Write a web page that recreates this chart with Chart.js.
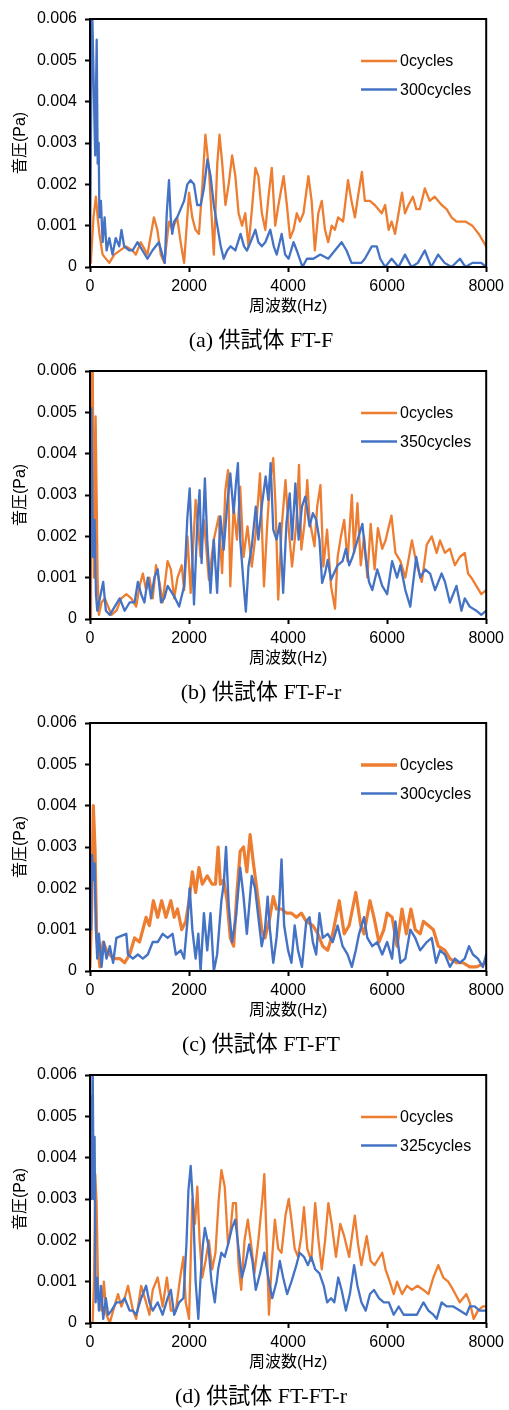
<!DOCTYPE html>
<html>
<head>
<meta charset="utf-8">
<script src="https://cdn.jsdelivr.net/npm/chart.js@4.4.1/dist/chart.umd.min.js"></script>
<style>
body { margin: 0; background: #fff; width: 509px; height: 1410px; position: relative; overflow: hidden; }
.panel { position: absolute; left: 0; width: 509px; height: 352px; }
.panel canvas { position: absolute; left: 0; top: 0; }
.cap { position: absolute; left: 0; width: 522px; top: 326px; text-align: center; color: #000;
       font: 22px "Liberation Serif", "Noto Sans CJK JP", serif; line-height: 28px; }
</style>
</head>
<body>
<div class="panel" style="top:0px"><canvas id="c0" width="509" height="352"></canvas><div class="cap">(a) 供試体 FT-F</div></div>
<div class="panel" style="top:352px"><canvas id="c1" width="509" height="352"></canvas><div class="cap">(b) 供試体 FT-F-r</div></div>
<div class="panel" style="top:704px"><canvas id="c2" width="509" height="352"></canvas><div class="cap">(c) 供試体 FT-FT</div></div>
<div class="panel" style="top:1056px"><canvas id="c3" width="509" height="352"></canvas><div class="cap">(d) 供試体 FT-FT-r</div></div>
<script>
// axes
const xTicks = [0, 2000, 4000, 6000, 8000];
const xTickLabels = ['0', '2000', '4000', '6000', '8000'];
const yTicks = [0, 0.001, 0.002, 0.003, 0.004, 0.005, 0.006];
const yTickLabels = ['0', '0.001', '0.002', '0.003', '0.004', '0.005', '0.006'];
const seriesNames = [['0cycles', '300cycles'], ['0cycles', '350cycles'], ['0cycles', '300cycles'], ['0cycles', '325cycles']];

// (a) FT-F  周波数(Hz) / 音圧(Pa)
const aFreq0 = [0,20,70,120,155,190,255,390,490,720,860,925,1025,1160,1290,1360,1430,1500,1595,1660,
  1760,1830,1900,2000,2065,2130,2200,2265,2330,2400,2500,2570,2615,2670,2735,2800,2870,2935,3000,3070,
  3135,3200,3270,3340,3400,3470,3540,3605,3670,3740,3805,3910,3975,4040,4110,4175,4240,4310,4410,4475,
  4540,4610,4680,4745,4810,4880,4945,5010,5110,5210,5280,5350,5410,5490,5550,5650,5750,5890,5960,6030,
  6090,6160,6230,6300,6360,6430,6520,6590,6660,6760,6860,6960,7100,7200,7300,7400,7580,7720,7850,8000];
const aPa0 = [0.0001,0.0002,0.0012,0.0017,0.0012,0.0008,0.0003,0.0001,0.0003,0.0005,
  0.0004,0.0003,0.0006,0.0003,0.0012,0.0009,0.0003,0.0001,0.0011,0.0009,
  0.0012,0.0006,0.0001,0.0018,0.0012,0.0009,0.0008,0.0019,0.0032,0.0024,
  0.0003,0.0025,0.0032,0.0025,0.0015,0.0020,0.0027,0.0022,0.0013,0.0010,
  0.0013,0.0005,0.0014,0.0024,0.0022,0.0013,0.0009,0.0017,0.0024,0.0010,
  0.0015,0.0022,0.0015,0.0007,0.0009,0.0013,0.0011,0.0013,0.0022,0.0016,
  0.0004,0.0013,0.0016,0.0009,0.0006,0.0010,0.0009,0.0012,0.0011,0.0021,
  0.0016,0.0012,0.0017,0.0023,0.0016,0.0016,0.0015,0.0013,0.0015,0.0009,
  0.0011,0.0008,0.0013,0.0018,0.0013,0.0015,0.0017,0.0014,0.0014,0.0019,
  0.0016,0.0017,0.0015,0.0014,0.0012,0.0011,0.0011,0.0010,0.0008,0.0005];
const aFreq1 = [0,40,90,105,135,155,175,190,220,255,295,335,390,455,520,590,635,690,790,860,
  960,1060,1160,1260,1390,1460,1510,1550,1595,1630,1660,1700,1760,1830,1900,1965,2030,2100,2165,2235,
  2300,2370,2435,2500,2570,2640,2700,2770,2840,2935,3040,3110,3170,3240,3340,3400,3470,3540,3640,3710,
  3770,3870,3940,4010,4110,4175,4290,4380,4510,4650,4810,4945,5080,5180,5280,5380,5480,5550,5690,5790,
  5860,5960,6090,6230,6360,6490,6620,6760,6890,7030,7160,7300,7470,7580,7720,7900,8000];
const aPa1 = [0.0001,0.0065,0.0035,0.0027,0.0055,0.0025,0.0030,0.0012,0.0016,0.0006,
  0.0012,0.0004,0.0007,0.0003,0.0007,0.0005,0.0009,0.0005,0.0004,0.0004,
  0.0006,0.0004,0.0002,0.0004,0.0006,0.0003,0.0001,0.0013,0.0021,0.0012,
  0.0008,0.0011,0.0012,0.0014,0.0016,0.0020,0.0021,0.0020,0.0015,0.0015,
  0.0019,0.0026,0.0022,0.0015,0.0010,0.0005,0.0002,0.0004,0.0005,0.0004,
  0.0008,0.0005,0.0004,0.0006,0.0009,0.0006,0.0005,0.0006,0.0009,0.0005,
  0.0003,0.0008,0.0003,0.0002,0.0006,0.0004,0,0.0002,0.0002,0.0003,
  0.0002,0.0004,0.0006,0.0004,0.0001,0.0001,0.0001,0.0002,0.0005,0.0005,
  0.0002,0,0.0002,0,0.0003,0,0.0001,0.0004,0,0.0003,
  0.0001,0,0.0002,0,0.0001,0.0001,0];

// (b) FT-F-r
const bFreq0 = [0,20,53,80,113,133,153,180,233,300,367,433,533,633,733,833,933,1000,1067,1133,
  1200,1267,1333,1400,1467,1567,1633,1700,1767,1853,1900,1967,2033,2133,2233,2300,2400,2500,2600,2667,
  2733,2787,2833,2900,2967,3033,3100,3180,3267,3347,3433,3513,3580,3633,3700,3747,3800,3867,3947,4013,
  4080,4167,4220,4267,4333,4387,4433,4533,4587,4653,4713,4787,4867,4947,5000,5067,5133,5200,5287,5333,
  5400,5467,5533,5600,5667,5747,5813,5900,5967,6087,6167,6267,6367,6500,6600,6700,6800,6900,7000,7067,
  7167,7267,7367,7467,7567,7633,7700,7800,7900,8000];
const bPa0 = [0,0.0065,0.0065,0.0010,0.0049,0.0030,0.0010,0.0001,0.0004,0.0005,
  0.0003,0.0001,0.0002,0.0005,0.0006,0.0005,0.0003,0.0008,0.0011,0.0007,
  0.0010,0.0005,0.0013,0.0009,0.0004,0.0014,0.0012,0.0005,0.0010,0.0013,
  0.0007,0.0020,0.00063,0.00288,0.0015,0.0024,0.00095,0.00192,0.00248,0.00111,
  0.00312,0.0036,0.00079,0.00272,0.00192,0.0032,0.0015,0.00224,0.00127,0.00208,
  0.00352,0.00079,0.00232,0.00328,0.00389,0.00272,0.00047,0.00216,0.00336,0.00216,
  0.00127,0.00232,0.00373,0.00168,0.00232,0.00336,0.0024,0.00176,0.00272,0.00324,
  0.00127,0.00216,0.00079,0.00025,0.0015,0.0020,0.0024,0.0014,0.0030,0.0016,
  0.0028,0.0013,0.0020,0.0010,0.0023,0.0012,0.0022,0.0017,0.0019,0.0025,
  0.0016,0.0014,0.0010,0.0019,0.0013,0.0009,0.0018,0.0020,0.0016,0.0019,
  0.0016,0.0017,0.0013,0.0015,0.0016,0.0011,0.0010,0.0008,0.0006,0.0007];
const bFreq1 = [0,27,60,93,120,147,200,267,320,400,500,600,700,800,900,967,1033,1100,1167,1233,
  1300,1367,1433,1500,1567,1700,1800,1900,1967,2013,2067,2100,2167,2213,2253,2320,2367,2433,2500,2567,
  2633,2700,2767,2833,2900,2947,2987,3033,3100,3147,3200,3267,3347,3400,3467,3547,3600,3647,3700,3767,
  3833,3900,3967,4033,4080,4147,4213,4280,4347,4433,4500,4567,4633,4687,4747,4800,4867,5000,5100,5167,
  5233,5300,5400,5500,5567,5633,5700,5800,5900,6000,6100,6200,6267,6367,6467,6587,6667,6767,6867,6967,
  7100,7167,7267,7400,7500,7567,7667,7800,7900,8000];
const bPa1 = [0,0.0051,0.0015,0.0024,0.0006,0.0002,0.0005,0.0009,0.0002,0.0001,
  0.0003,0.0005,0.0002,0.0004,0.0004,0.0009,0.0006,0.0004,0.0010,0.0005,
  0.0010,0.0012,0.0004,0.0005,0.0008,0.00055,0.0003,0.00079,0.00248,0.00316,
  0.00143,0.00035,0.00232,0.00312,0.00135,0.0034,0.00192,0.00063,0.00192,0.00063,
  0.00248,0.00168,0.00272,0.00352,0.00256,0.00328,0.00377,0.00192,0.00087,0.00018,
  0.00127,0.00176,0.00272,0.00192,0.00272,0.00345,0.00288,0.00377,0.00216,0.00192,
  0.00232,0.00063,0.00232,0.00304,0.00192,0.00328,0.00192,0.00272,0.00296,0.00224,
  0.00256,0.0024,0.00192,0.00087,0.00111,0.00143,0.00095,0.0013,0.0014,0.0017,
  0.0013,0.0015,0.0019,0.0023,0.0015,0.0009,0.0007,0.0012,0.0008,0.0006,
  0.0014,0.0010,0.0013,0.0007,0.0003,0.0015,0.0010,0.0012,0.0011,0.0007,
  0.0011,0.0009,0.0004,0.0008,0.0002,0.0005,0.0003,0.0002,0.0001,0.0002];

// (c) FT-FT
const cFreq0 = [0,33,67,100,133,200,267,333,467,600,700,800,900,1000,1133,1200,1280,1367,1447,1533,
  1633,1700,1767,1853,1933,2000,2067,2133,2200,2267,2367,2467,2533,2587,2633,2700,2767,2833,2900,2967,
  3033,3100,3167,3233,3300,3367,3467,3533,3633,3700,3767,3867,3967,4067,4167,4267,4367,4500,4600,4700,
  4800,4900,5033,5133,5233,5367,5467,5533,5653,5733,5833,5933,6000,6100,6200,6300,6387,6480,6567,6667,
  6733,6833,6933,7033,7167,7267,7400,7533,7667,7800,8000];
const cPa0 = [0.0001,0.0015,0.0040,0.0030,0.0009,0.0001,0.0007,0.0005,0.0003,0.0003,
  0.0002,0.0004,0.0008,0.0007,0.0013,0.0011,0.0017,0.0013,0.0017,0.0013,
  0.0017,0.0013,0.0015,0.0010,0.0012,0.0017,0.0024,0.0019,0.0025,0.0021,
  0.0023,0.0021,0.0021,0.0030,0.0021,0.0022,0.0017,0.0008,0.0006,0.0019,
  0.0029,0.0030,0.0024,0.0033,0.0026,0.0020,0.0010,0.0008,0.0013,0.0018,
  0.0015,0.0015,0.0014,0.0014,0.0013,0.0014,0.0012,0.0011,0.0009,0.0006,
  0.0005,0.0009,0.0017,0.0009,0.0011,0.0019,0.0011,0.0009,0.0017,0.0013,
  0.0007,0.0010,0.0014,0.0013,0.0006,0.0015,0.0009,0.0015,0.0010,0.0009,
  0.0012,0.0011,0.0010,0.0006,0.0005,0.0003,0.0002,0.0002,0.0001,0.0001,0.0002];
const cFreq1 = [0,20,40,67,93,120,147,180,233,280,333,400,467,533,733,767,867,967,1067,1167,
  1267,1367,1467,1567,1667,1733,1833,1900,1967,2013,2067,2133,2187,2233,2300,2367,2433,2500,2567,2653,
  2700,2747,2800,2867,2947,3033,3100,3167,3267,3333,3400,3467,3533,3587,3633,3700,3767,3820,3867,3920,
  4000,4067,4133,4200,4280,4367,4433,4500,4567,4633,4700,4800,4900,5000,5100,5200,5287,5367,5433,5533,
  5600,5700,5800,5900,6000,6100,6167,6267,6367,6467,6567,6667,6800,6900,6987,7067,7167,7267,7367,7467,
  7567,7653,7733,7833,7933,8000];
const cPa1 = [0.0017,0.0010,0.0028,0.0022,0.0026,0.0010,0.0003,0.0009,0.0001,0.0007,
  0.0003,0.0006,0.0002,0.0008,0.0009,0.0004,0.0003,0.0004,0.0003,0.0004,
  0.0007,0.0007,0.0009,0.0008,0.0009,0.0004,0.0005,0.0003,0.0012,0.0020,
  0.0010,0.0003,0.0009,0,0.0014,0.0005,0.0014,0,0.0004,0.0017,
  0.0021,0.0030,0.0016,0.0007,0.0013,0.0025,0.0018,0.0009,0.0023,0.0020,
  0.0013,0.0006,0.0010,0.0018,0.0010,0.0002,0.0008,0.0016,0.0027,0.0011,
  0.0005,0.0002,0.0011,0.0005,0.0001,0.0012,0.0013,0.0007,0.0004,0.0014,
  0.0008,0.0009,0.0007,0.0011,0.0006,0.0004,0.0001,0.0005,0.0009,0.0013,
  0.0008,0.0006,0.0007,0.0004,0.0007,0.0003,0.0012,0.0002,0.0003,0.0010,
  0.0008,0.0005,0.0007,0.0008,0.0002,0.0005,0.0004,0.0001,0.0003,0.0002,
  0.0003,0.0006,0.0004,0.0003,0.0001,0.0004];

// (d) FT-FT-r
const dFreq0 = [0,53,80,107,133,167,233,280,333,400,467,567,633,700,767,867,933,1033,1133,1200,
  1267,1367,1467,1553,1633,1733,1833,1887,1933,2000,2067,2120,2167,2213,2267,2333,2400,2467,2533,2600,
  2653,2720,2787,2833,2887,2947,3000,3053,3120,3187,3253,3320,3400,3480,3520,3567,3613,3667,3733,3800,
  3867,3947,4013,4067,4133,4200,4267,4320,4387,4467,4547,4613,4680,4747,4813,4880,4967,5053,5133,5233,
  5347,5413,5480,5587,5667,5747,5900,5967,6053,6133,6200,6300,6400,6500,6613,6733,6833,6933,7033,7133,
  7233,7333,7467,7600,7667,7747,7833,7933,8000];
const dPa0 = [0,0,0.0010,0.0036,0.0029,0.0006,0.0003,0.0010,0.0002,0,
  0.0003,0.0007,0.0004,0.0006,0.0009,0.0003,0.0001,0.0009,0.0005,0.0002,
  0.0008,0.0011,0.0004,0.0011,0.0003,0.0003,0.0012,0.0016,0.0005,0.0001,
  0.0030,0.0024,0.0033,0.0020,0.0011,0.0015,0.0020,0.0013,0.0017,0.0030,
  0.0037,0.0033,0.0019,0.0022,0.0029,0.0029,0.0014,0.0008,0.0020,0.0025,
  0.0019,0.0012,0.0020,0.0030,0.0036,0.0020,0.0002,0.0014,0.0025,0.0018,
  0.0017,0.0026,0.0030,0.0025,0.0018,0.0016,0.0021,0.0028,0.0018,0.0015,
  0.0029,0.0020,0.0013,0.0020,0.0029,0.0024,0.0016,0.0024,0.0021,0.0016,
  0.0026,0.0019,0.0014,0.0021,0.0015,0.0014,0.0017,0.0013,0.0010,0.0007,
  0.0010,0.0007,0.0009,0.0008,0.0009,0.0008,0.0007,0.0011,0.0014,0.0011,
  0.0010,0.0008,0.0005,0.0007,0.0005,0.0001,0.0003,0.0004,0.0004];
const dFreq1 = [0,13,33,53,73,93,113,147,180,220,267,320,367,433,533,633,700,800,867,933,
  1033,1133,1200,1267,1367,1467,1567,1633,1700,1800,1887,1947,1987,2033,2080,2133,2187,2233,2280,2320,
  2387,2453,2520,2587,2653,2720,2787,2867,2933,3000,3067,3133,3213,3280,3347,3433,3520,3600,3680,3767,
  3833,3900,3980,4067,4167,4233,4320,4400,4467,4547,4633,4720,4787,4867,4933,5013,5080,5167,5247,5333,
  5400,5480,5567,5653,5733,5833,5933,6033,6133,6233,6333,6467,6600,6733,6833,6933,7000,7100,7200,7333,
  7467,7600,7667,7767,7867,8000];
const dPa1 = [0.0054,0.0055,0.0030,0.0065,0.0030,0.0045,0.0005,0.0011,0.0003,0.0009,
  0.0001,0.0006,0.0002,0.0003,0.0005,0.0005,0.0006,0.0003,0.0003,0.0002,
  0.0006,0.0009,0.0005,0.0003,0.0005,0.0002,0.0006,0.0008,0.0002,0.0005,
  0.0006,0.0019,0.0032,0.0038,0.0029,0.0010,0.0001,0.0011,0.0019,0.0023,
  0.0019,0.0010,0.0005,0.0013,0.0017,0.0016,0.0019,0.0023,0.0025,0.0018,
  0.0011,0.0014,0.0019,0.0015,0.0008,0.0012,0.0017,0.0011,0.0006,0.0010,
  0.0015,0.0011,0.0007,0.0010,0.0014,0.0017,0.0016,0.0014,0.0016,0.0013,
  0.0012,0.0009,0.0005,0.0006,0.0005,0.0011,0.0008,0.0003,0.0007,0.0014,
  0.0009,0.0005,0.0003,0.0007,0.0008,0.0006,0.0005,0.0005,0.0002,0.0004,
  0.0002,0.0002,0.0002,0.0005,0.0003,0.0002,0.0001,0.0005,0.0004,0.0004,
  0.0003,0.0002,0.0004,0.0004,0.0003,0.0003];

const ORANGE = '#ED7D31';
const BLUE = '#4472C4';
const FONT = "'Liberation Sans', Arial, 'Noto Sans CJK JP', sans-serif";

const pts = (f, v) => f.map((x, i) => ({ x: x, y: v[i] }));

// plot frame + legend inside the plot area
const framePlugin = {
  id: 'frame',
  afterDraw(chart) {
    const { ctx, chartArea: a } = chart;
    ctx.save();
    ctx.strokeStyle = '#000';
    ctx.lineWidth = 2;
    ctx.strokeRect(a.left, a.top, a.right - a.left, a.bottom - a.top);

    ctx.font = '16px ' + FONT;
    ctx.textBaseline = 'middle';
    ctx.fillStyle = '#000';
    chart.data.datasets.forEach((ds, i) => {
      const y = a.top + 42 + i * 28.5;
      ctx.strokeStyle = ds.borderColor;
      ctx.lineWidth = ds.borderWidth + 0.3;
      ctx.beginPath();
      ctx.moveTo(a.left + 271, y);
      ctx.lineTo(a.left + 307, y);
      ctx.stroke();
      ctx.fillText(ds.label, a.left + 310, y + 1);
    });
    ctx.restore();
  }
};

function makeChart(id, f0, v0, f1, v1, names, widths) {
  const tickGrid = { display: true, drawOnChartArea: false, drawTicks: true, tickLength: 5, tickWidth: 2, tickColor: '#000' };
  new Chart(document.getElementById(id), {
    type: 'line',
    data: {
      datasets: [
        { label: names[0], data: pts(f0, v0), borderColor: ORANGE, borderWidth: widths[0], pointRadius: 0, order: 1 },
        { label: names[1], data: pts(f1, v1), borderColor: BLUE, borderWidth: widths[1], pointRadius: 0, order: 0 }
      ]
    },
    options: {
      responsive: false,
      animation: false,
      elements: { line: { borderJoinStyle: 'round', borderCapStyle: 'round' } },
      layout: { padding: { top: 19, right: 20, bottom: 35, left: 0 } },
      plugins: { legend: { display: false }, tooltip: { enabled: false } },
      scales: {
        x: {
          type: 'linear', min: 0, max: 8000,
          afterBuildTicks: s => { s.ticks = xTicks.map(v => ({ value: v })); },
          afterFit: s => { s.height = 50; },
          ticks: { color: '#000', padding: 5, font: { family: FONT, size: 16 },
                   maxRotation: 0, callback: (v, i) => xTickLabels[i] },
          grid: tickGrid,
          border: { display: false },
          title: { display: true, text: '周波数(Hz)', color: '#000', font: { family: FONT, size: 16 },
                   padding: { top: 0, bottom: 1 } }
        },
        y: {
          min: 0, max: 0.006,
          afterBuildTicks: s => { s.ticks = yTicks.map(v => ({ value: v })); },
          afterFit: s => { s.width = 90; },
          ticks: { color: '#000', padding: 8, font: { family: FONT, size: 16 },
                   callback: (v, i) => yTickLabels[i] },
          grid: tickGrid,
          border: { display: false },
          title: { display: true, text: '音圧(Pa)', color: '#000', font: { family: FONT, size: 16 },
                   padding: { top: 11, bottom: 0 } }
        }
      }
    },
    plugins: [framePlugin]
  });
}

makeChart('c0', aFreq0, aPa0, aFreq1, aPa1, seriesNames[0], [2.3, 2.3]);
makeChart('c1', bFreq0, bPa0, bFreq1, bPa1, seriesNames[1], [2.3, 2.3]);
makeChart('c2', cFreq0, cPa0, cFreq1, cPa1, seriesNames[2], [3.2, 2.4]);
makeChart('c3', dFreq0, dPa0, dFreq1, dPa1, seriesNames[3], [2.3, 2.3]);
</script>
</body>
</html>
